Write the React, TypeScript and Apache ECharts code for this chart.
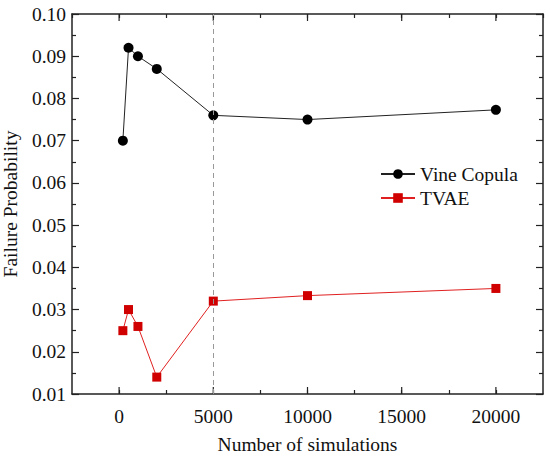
import React, { useEffect, useRef } from "react";
import * as echarts from "echarts";

const simulations = [200, 500, 1000, 2000, 5000, 10000, 20000];
const vineCopula = [0.07, 0.092, 0.09, 0.087, 0.076, 0.075, 0.0773];
const tvae = [0.025, 0.03, 0.026, 0.014, 0.032, 0.0333, 0.035];
const majorXTicks = [0, 5000, 10000, 15000, 20000];
const dashedX = 5000;

const FONT = "Liberation Serif, DejaVu Serif, serif";
const FS = 19.5;
const AXIS_COLOR = "#222";

export default function App() {
  const ref = useRef<HTMLDivElement>(null);
  useEffect(() => {
    if (!ref.current) return;
    const chart = echarts.init(ref.current, null, { renderer: "svg" });
    const xMin = -2500, xMax = 22500, yMin = 0.01, yMax = 0.1;
    const xBase = {
      type: "value" as const,
      min: xMin,
      max: xMax,
      interval: 2500,
      splitLine: { show: false },
      axisLine: { show: true, onZero: false, lineStyle: { color: AXIS_COLOR, width: 1.5 } },
      axisTick: { show: true, inside: true, length: 4, lineStyle: { color: AXIS_COLOR, width: 1.2 } },
    };
    const yBase = {
      type: "value" as const,
      min: yMin,
      max: yMax,
      interval: 0.01,
      splitLine: { show: false },
      axisLine: { show: true, onZero: false, lineStyle: { color: AXIS_COLOR, width: 1.5 } },
      axisTick: { show: true, inside: true, length: 7, lineStyle: { color: AXIS_COLOR, width: 1.2 } },
      minorTick: { show: true, splitNumber: 2, length: 4, lineStyle: { color: AXIS_COLOR, width: 1.2 } },
    };
    chart.setOption({
      animation: false,
      textStyle: { fontFamily: FONT },
      grid: { left: 72, right: 7, top: 14, bottom: 64, containLabel: false, outerBoundsMode: "none" },
      legend: {
        left: 380,
        top: 164,
        padding: 0,
        orient: "vertical",
        itemWidth: 34,
        itemHeight: 12,
        itemGap: 4,
        textStyle: { fontFamily: FONT, fontSize: FS, color: "#111" },
        data: ["Vine Copula", "TVAE"],
      },
      xAxis: [
        {
          ...xBase,
          position: "bottom",
          name: "Number of simulations",
          nameLocation: "middle",
          nameGap: 40,
          nameTextStyle: { fontFamily: FONT, fontSize: FS, color: "#111" },
          axisLabel: {
            fontFamily: FONT,
            fontSize: FS,
            color: "#111",
            margin: 12,
            showMinLabel: false,
            showMaxLabel: false,
            formatter: (v: number) => (v % 5000 === 0 ? String(v) : ""),
          },
        },
        { ...xBase, position: "top", axisLabel: { show: false } },
      ],
      yAxis: [
        {
          ...yBase,
          position: "left",
          name: "Failure Probability",
          nameLocation: "middle",
          nameGap: 52,
          nameTextStyle: { fontFamily: FONT, fontSize: FS, color: "#111" },
          axisLabel: {
            fontFamily: FONT,
            fontSize: FS,
            color: "#111",
            margin: 6,
            formatter: (v: number) => v.toFixed(2),
          },
        },
        { ...yBase, position: "right", axisLabel: { show: false } },
      ],
      series: [
        {
          name: "Vine Copula",
          type: "line",
          data: simulations.map((x, i) => [x, vineCopula[i]]),
          symbol: "circle",
          symbolSize: 10,
          itemStyle: { color: "#000" },
          lineStyle: { color: "#222", width: 1 },
          markLine: {
            silent: true,
            symbol: "none",
            label: { show: false },
            lineStyle: { color: "#999", type: [5, 4], width: 1 },
            data: [{ xAxis: dashedX }],
          },
          z: 3,
        },
        {
          name: "TVAE",
          type: "line",
          data: simulations.map((x, i) => [x, tvae[i]]),
          symbol: "rect",
          symbolSize: 9,
          itemStyle: { color: "#d00000" },
          lineStyle: { color: "#e02020", width: 1 },
          z: 3,
        },
        {
          type: "custom",
          silent: true,
          clip: false,
          data: majorXTicks.map((v) => [v]),
          renderItem: (params: any, api: any) => {
            const v = api.value(0);
            const b = api.coord([v, yMin]);
            const t = api.coord([v, yMax]);
            const style = { stroke: AXIS_COLOR, lineWidth: 1.2 };
            return {
              type: "group",
              children: [
                { type: "line", shape: { x1: b[0], y1: b[1], x2: b[0], y2: b[1] - 7 }, style },
                { type: "line", shape: { x1: t[0], y1: t[1], x2: t[0], y2: t[1] + 7 }, style },
              ],
            };
          },
          z: 1,
        },
      ],
    });
    return () => chart.dispose();
  }, []);
  return (
    <div
      ref={ref}
      style={{ position: "absolute", left: 0, top: 0, width: 550, height: 458 }}
    />
  );
}
